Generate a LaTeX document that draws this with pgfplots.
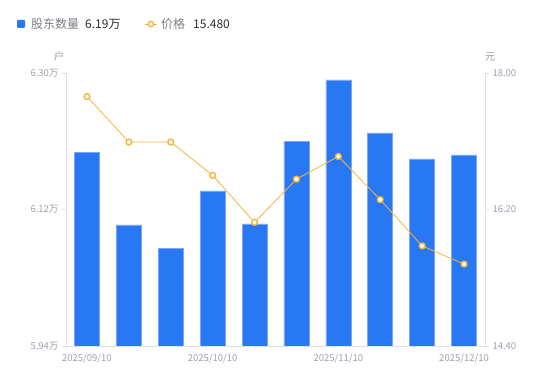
\documentclass[border=0pt]{standalone}
\usepackage{pgfplots}
\pgfplotsset{compat=1.18}
\usepackage{fontspec}
\setmainfont{Noto Sans CJK SC}
\definecolor{barblue}{RGB}{39,120,242}
\definecolor{baredge}{RGB}{120,168,246}
\definecolor{lineorange}{RGB}{247,180,60}
\definecolor{axisgray}{RGB}{224,224,228}
\definecolor{ticktext}{RGB}{160,160,175}
\definecolor{legtext}{RGB}{125,125,135}
\definecolor{valtext}{RGB}{45,45,50}
\begin{document}
\begin{tikzpicture}[x=1pt,y=1pt]
\path[use as bounding box, fill=white] (0,0) rectangle (550,381);
\begin{axis}[
  at={(66pt,35pt)}, anchor=south west,
  scale only axis, width=419pt, height=273pt,
  xmin=-0.5, xmax=9.5, ymin=5.94, ymax=6.30,
  axis x line*=bottom, axis y line*=left,
  axis line style={draw=axisgray, line width=0.8pt},
  ytick={5.94,6.12,6.30}, yticklabels={5.94万,6.12万,6.30万},
  xtick={0,3,6,9}, xticklabels={2025/09/10,2025/10/10,2025/11/10,2025/12/10},
  tick align=outside, major tick length=4pt,
  ytick style={draw=axisgray, line width=0.8pt},
  xtick style={draw=none},
  tick label style={font=\fontsize{9.5}{11}\selectfont, text=ticktext},
  /pgf/number format/assume math mode=true,
  ybar, bar width=25pt,
  clip=true,
]
\addplot[fill=barblue, draw=baredge, line width=0.6pt] coordinates {
(0,6.1958) (1,6.0996) (2,6.0692) (3,6.1444) (4,6.1009)
(5,6.2103) (6,6.2908) (7,6.2209) (8,6.1866) (9,6.1919)};
\end{axis}
\begin{axis}[
  at={(66pt,35pt)}, anchor=south west,
  scale only axis, width=419pt, height=273pt,
  xmin=-0.5, xmax=9.5, ymin=14.4, ymax=18,
  axis x line=none, axis y line*=right,
  axis line style={draw=axisgray, line width=0.8pt},
  ytick={14.4,16.2,18}, yticklabels={14.40,16.20,18.00},
  tick align=outside, major tick length=4pt,
  ytick style={draw=axisgray, line width=0.8pt},
  tick label style={font=\fontsize{9.5}{11}\selectfont, text=ticktext},
  /pgf/number format/assume math mode=true,
  clip=false,
]
\addplot[lineorange, line width=0.8pt, mark=*, mark size=2.9pt,
  mark options={fill=white, draw=lineorange, line width=1.4pt}] coordinates {
(0,17.69) (1,17.09) (2,17.09) (3,16.65) (4,16.03)
(5,16.60) (6,16.90) (7,16.33) (8,15.72) (9,15.48)};
\end{axis}
% unit labels
\node[font=\fontsize{10.5}{12}\selectfont, text=ticktext] at (59,324) {户};
\node[font=\fontsize{10.5}{12}\selectfont, text=ticktext] at (490,324) {元};
% legend
\fill[barblue, rounded corners=1pt] (17,353) rectangle (25,361);
\node[anchor=west, inner sep=0pt, font=\fontsize{12}{14}\selectfont, text=legtext] at (31,357) {股东数量};
\node[anchor=west, inner sep=0pt, font=\fontsize{12}{14}\selectfont, text=valtext] at (85,357) {6.19万};
\draw[lineorange, line width=0.9pt] (145,357) -- (157,357);
\draw[lineorange, line width=1.4pt, fill=white] (151,357) circle (2.6);
\node[anchor=west, inner sep=0pt, font=\fontsize{12}{14}\selectfont, text=legtext] at (161,357) {价格};
\node[anchor=west, inner sep=0pt, font=\fontsize{12}{14}\selectfont, text=valtext] at (193,357) {15.480};
\end{tikzpicture}
\end{document}
